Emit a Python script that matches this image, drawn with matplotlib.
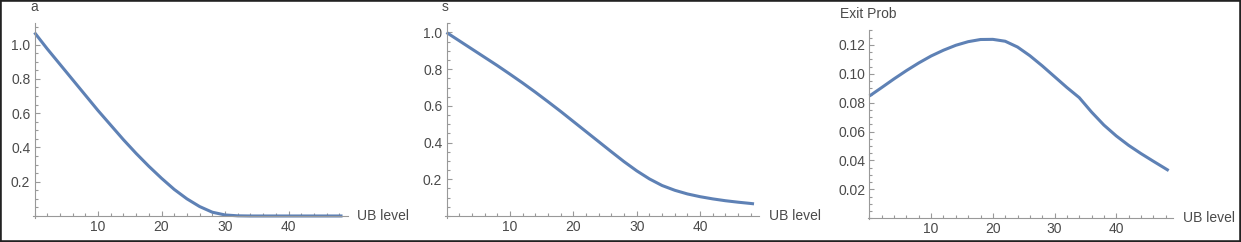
import matplotlib
matplotlib.use("Agg")
import matplotlib.pyplot as plt
from matplotlib.ticker import MultipleLocator, FixedLocator
from matplotlib.patches import Rectangle

W, H = 1241, 242

# values
ub_a = [0, 2, 4, 6, 8, 10, 12, 14, 16, 18, 20, 22, 24, 26, 28, 30, 32, 34, 36, 38, 40, 42, 44, 46, 48, 48.5]
a_vals = [1.07, 0.975, 0.885, 0.795, 0.705, 0.615, 0.53, 0.445, 0.365, 0.29, 0.22, 0.155, 0.1, 0.055, 0.022,
          0.006, 0.001, 0, 0, 0, 0, 0, 0, 0, 0, 0]

ub_s = [0, 2, 4, 6, 8, 10, 12, 14, 16, 18, 20, 22, 24, 26, 28, 30, 32, 34, 36, 38, 40, 42, 44, 46, 48, 48.5]
s_vals = [1.0, 0.955, 0.91, 0.865, 0.82, 0.773, 0.725, 0.675, 0.623, 0.57, 0.515, 0.46, 0.405, 0.35, 0.296,
          0.246, 0.202, 0.166, 0.14, 0.12, 0.105, 0.093, 0.083, 0.075, 0.068, 0.066]

ub_e = [0, 2, 4, 6, 8, 10, 12, 14, 16, 18, 20, 22, 24, 26, 28, 30, 32, 34, 35, 36, 38, 40, 42, 44, 46, 48, 48.5]
exit_vals = [0.0846, 0.0905, 0.0965, 0.1022, 0.1075, 0.1123, 0.1163, 0.1197, 0.1222, 0.1237, 0.1238, 0.1225,
             0.1185, 0.1125, 0.1055, 0.098, 0.0905, 0.0835, 0.0785, 0.0735, 0.0645, 0.057, 0.0505, 0.0448,
             0.0395, 0.0343, 0.033]

y_majors_1 = [0.2, 0.4, 0.6, 0.8, 1.0]
y_majors_3 = [0.02, 0.04, 0.06, 0.08, 0.10, 0.12]
x_majors = [10, 20, 30, 40]

LINE = "#5E81B5"
AXC = "#999999"
TXT = "#4a4a4a"

plt.rcParams["font.family"] = ["Liberation Sans", "DejaVu Sans"]

fig = plt.figure(figsize=(W / 100, H / 100), dpi=100)


def px_axes(left, right, top, bottom):
    return fig.add_axes([left / W, 1 - bottom / H, (right - left) / W, (bottom - top) / H])


def style(ax, xlim, ylim, ymaj, ymin, fmt):
    ax.set_xlim(*xlim)
    ax.set_ylim(*ylim)
    for side in ("top", "right"):
        ax.spines[side].set_visible(False)
    for side in ("left", "bottom"):
        ax.spines[side].set_position(("data", 0))
        ax.spines[side].set_color(AXC)
        ax.spines[side].set_linewidth(0.8)
    ax.xaxis.set_major_locator(FixedLocator(x_majors))
    ax.xaxis.set_minor_locator(MultipleLocator(2))
    ax.yaxis.set_major_locator(FixedLocator(ymaj))
    ax.yaxis.set_minor_locator(MultipleLocator(ymin))
    ax.set_yticklabels([fmt.format(v) for v in ymaj])
    ax.tick_params(which="both", direction="in", color=AXC, width=0.8,
                   labelsize=10, labelcolor=TXT)
    ax.tick_params(which="major", length=3.5, pad=3)
    ax.tick_params(which="minor", length=2)
    ax.patch.set_alpha(0)


# panel a
ax1 = px_axes(32.6, 347.6, 23.1, 217.7)
ax1.plot(ub_a, a_vals, color=LINE, lw=2.2, solid_capstyle="butt")
style(ax1, (-0.3, 49.3), (-0.01, 1.125), y_majors_1, 0.05, "{:.1f}")
fig.text(34 / W, 1 - 7 / H, "a", ha="center", va="center", fontsize=10, color=TXT)
fig.text(357 / W, 1 - 216 / H, "UB level", ha="left", va="center", fontsize=10, color=TXT)

# panel s
ax2 = px_axes(444.6, 759.1, 23.3, 217.8)
ax2.plot(ub_s, s_vals, color=LINE, lw=2.2, solid_capstyle="butt")
style(ax2, (-0.3, 49.3), (-0.01, 1.05), y_majors_1, 0.05, "{:.1f}")
fig.text(445 / W, 1 - 7 / H, "s", ha="center", va="center", fontsize=10, color=TXT)
fig.text(769 / W, 1 - 216 / H, "UB level", ha="left", va="center", fontsize=10, color=TXT)

# panel exit prob
ax3 = px_axes(867.6, 1173, 30.4, 219)
ax3.plot(ub_e, exit_vals, color=LINE, lw=2.2, solid_capstyle="butt")
style(ax3, (-0.3, 49.2), (-0.0005, 0.130), y_majors_3, 0.005, "{:.2f}")
fig.text(868 / W, 1 - 14 / H, "Exit Prob", ha="center", va="center", fontsize=10, color=TXT)
fig.text(1183 / W, 1 - 218 / H, "UB level", ha="left", va="center", fontsize=10, color=TXT)

fig.patches.append(Rectangle((0, 0), 1, 1, transform=fig.transFigure, fill=False,
                             edgecolor="#222222", linewidth=2.6))

fig.savefig("out.png", dpi=100)
